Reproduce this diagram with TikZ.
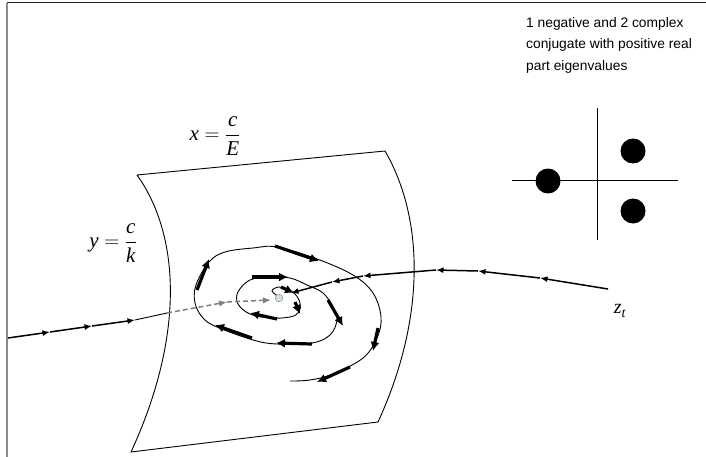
\documentclass[tikz,border=0pt]{standalone}
\usepackage{amsmath}
\usepackage{fontspec}
\setmainfont{Liberation Serif}
\newfontfamily\notefont{Liberation Sans}
\usetikzlibrary{arrows.meta}

\begin{document}
\begin{tikzpicture}[x=1pt,y=-1pt,
    flow/.style={line width=1.5pt,-{Latex[length=7.5pt,width=6pt]}},
    swirl/.style={line width=3.2pt,-{Latex[length=9pt,width=9pt]}},
    eig/.style={circle,fill=black,inner sep=0pt,minimum size=25pt}]
            \useasboundingbox (0,0) rectangle (706,457);
            \draw[black!85,line width=1pt] (7,3)--(706,3);
            \draw[black!45,line width=2pt] (7,3)--(7,457);

            \coordinate (TL) at (137,175);
            \coordinate (TR) at (385,151);
            \coordinate (BR) at (378,422);
            \coordinate (BL) at (131,452);
            \draw[line width=0.9pt] (TL)--(TR) .. controls (425,220) and (425,320) .. (BR)
                --(BL) .. controls (185,335) and (180,235) .. (TL);

            \node at (215,136) {\fontsize{21}{24}\selectfont $\textit{x}=\dfrac{\textit{c}}{\textit{E}}$};
            \node at (113,243) {\fontsize{21}{24}\selectfont $\textit{y}=\dfrac{\textit{c}}{\textit{k}}$};
            \node at (620,311) {\fontsize{20}{24}\selectfont $\textit{z}_{\textit{t}}$};

            \node[anchor=north west,align=left,inner sep=0pt,
                font=\notefont\fontsize{13.8}{21.5}\selectfont] (note) at (526,17)
                {1 negative and 2 complex\\conjugate with positive real\\part eigenvalues};

            \draw[line width=1pt] (512,181)--(678,181);
            \draw[line width=1pt] (597,108)--(597,240);
            \node[eig] (l1) at (548,181) {};
            \node[eig] (l2) at (633,151) {};
            \node[eig] (l3) at (633,211) {};

            \draw[line width=0.9pt] plot[smooth,tension=0.6] coordinates {
                (279,297) (272,291) (278,287) (286,289) (295,294) (300,303) (299,312)
                (290,317) (270,318) (250,314) (238,304) (238,292) (250,280) (270,277)
                (290,278) (307,285) (323,293) (333,307) (337,320) (330,335) (312,343)
                (277,344) (253,340) (217,327) (203,318) (195,303) (196,285) (209,262)
                (225,252) (253,248) (277,247) (317,259) (353,275) (373,293) (381,317)
                (377,338) (363,358) (333,374) (310,380) (290,381)};

            \draw[swirl] (281,287)--(294,293);
            \draw[swirl] (252,277)--(288,277);
            \draw[swirl] (295,302)--(300,314);
            \draw[swirl] (277,319)--(250,313);
            \draw[swirl] (328,300)--(343,326);
            \draw[swirl] (312,344)--(276,343);
            \draw[swirl] (252,338)--(215,325);
            \draw[swirl] (197,290)--(209,259);
            \draw[swirl] (275,246)--(319,261);
            \draw[swirl] (378,328)--(373,351);
            \draw[swirl] (350,367)--(317,382);

            \coordinate (z0) at (608,289);
            \coordinate (z1) at (540,278);
            \coordinate (z2) at (478,271);
            \coordinate (z3) at (436,270);
            \coordinate (z4) at (363,276);
            \coordinate (z5) at (332,282);
            \coordinate (z6) at (291,293);
            \draw[flow] (z0)--(z1);
            \draw[flow] (z1)--(z2);
            \draw[flow] (z2)--(z3);
            \draw[flow] (z3)--(z4);
            \draw[flow] (z4)--(z5);
            \draw[flow] (z5)--(z6);

            \coordinate (w0) at (8,338);
            \coordinate (w1) at (50,332);
            \coordinate (w2) at (92,326);
            \coordinate (w3) at (135,320);
            \coordinate (w4) at (167,313);
            \coordinate (w5) at (227,302);
            \coordinate (w6) at (271,300);
            \draw[flow] (w0)--(w1);
            \draw[flow] (w1)--(w2);
            \draw[flow] (w2)--(w3);
            \draw[line width=0.9pt] (w3)--(w4);
            \draw[gray,dash pattern=on 5pt off 3pt,line width=1.5pt,-{Latex[length=8pt,width=6.5pt]}] (w4)--(w5);
            \draw[gray,dash pattern=on 5pt off 3pt,line width=1.5pt,-{Latex[length=8pt,width=6.5pt]}] (w5)--(w6);

            \node[circle,draw=gray,fill=cyan!25!gray!30,inner sep=0pt,minimum size=7.5pt] (fp) at (279,298) {};
        \end{tikzpicture}
\end{document}
